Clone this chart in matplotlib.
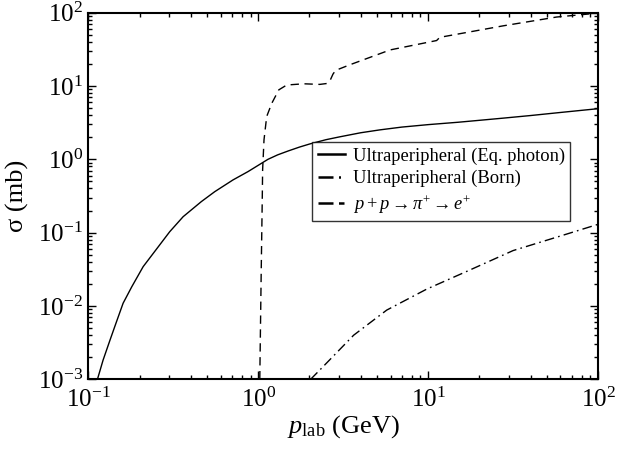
import numpy as np
import matplotlib
matplotlib.use("Agg")
import matplotlib.pyplot as plt
from matplotlib.ticker import LogLocator, FuncFormatter, NullFormatter

plt.rcParams['font.family'] = ['Liberation Serif', 'DejaVu Serif']
plt.rcParams['mathtext.fontset'] = 'custom'
plt.rcParams['mathtext.rm'] = 'Liberation Serif'
plt.rcParams['mathtext.it'] = 'Liberation Serif:italic'

# Ultraperipheral (Eq. photon) - solid
eq_x = [0.113, 0.122, 0.134, 0.144, 0.160, 0.180, 0.210, 0.258, 0.301, 0.361, 0.462,
        0.554, 0.71, 0.87, 1.14, 1.3, 1.5, 1.75, 2.01, 2.5, 3.0, 4.0, 5.2, 7.0, 10,
        15, 20, 27.6, 40, 60, 100]
eq_y = [0.001, 0.00183, 0.00343, 0.0055, 0.0109, 0.0183, 0.0344, 0.0644, 0.103, 0.165, 0.265,
        0.362, 0.524, 0.68, 1.0, 1.15, 1.3, 1.47, 1.62, 1.85, 2.02, 2.3, 2.52, 2.75, 2.97,
        3.2, 3.4, 3.64, 3.95, 4.35, 4.9]

# Ultraperipheral (Born) - dash-dot
born_x = [2.03, 2.3, 3.64, 5.7, 9.8, 17.6, 31.6, 60, 100]
born_y = [0.001, 0.00134, 0.004, 0.0088, 0.017, 0.031, 0.057, 0.09, 0.13]

# p + p -> pi+ -> e+ - dashed
pp_x = [1.02, 1.04, 1.055, 1.06, 1.08, 1.12, 1.2, 1.32, 1.47, 1.85, 2.3, 2.53, 2.65, 2.75,
        2.85, 3.47, 5.97, 11.2, 11.7, 27.6, 56.9, 89, 100]
pp_y = [0.001, 0.03, 0.3, 0.72, 1.84, 3.83, 5.8, 8.85, 10.3, 10.7, 10.5, 10.8, 12, 14.5,
        16.3, 19.5, 31, 41.6, 46, 66, 87, 96, 100]

labels = ['Ultraperipheral (Eq. photon)', 'Ultraperipheral (Born)',
          r'$p + p \rightarrow \pi^{+} \rightarrow e^{+}$']

fig = plt.figure(figsize=(6.27, 4.5), dpi=100)
ax = fig.add_axes([0.141, 0.157, 0.813, 0.815])

ax.plot(eq_x, eq_y, color='black', lw=1.0, label=labels[0])
ax.plot(born_x, born_y, color='black', lw=1.0, dashes=(7, 3, 1.2, 3), label=labels[1])
ax.plot(pp_x, pp_y, color='black', lw=1.0, dashes=(6, 4), label=labels[2])

ax.set_xscale('log')
ax.set_yscale('log')
ax.set_xlim(0.1, 100)
ax.set_ylim(1e-3, 1e2)

fmt = FuncFormatter(lambda v, p: r'$\mathregular{10^{%d}}$' % int(round(np.log10(v))))
ax.xaxis.set_major_locator(LogLocator(base=10, numticks=10))
ax.yaxis.set_major_locator(LogLocator(base=10, numticks=10))
ax.xaxis.set_minor_locator(LogLocator(base=10, subs=np.arange(2, 10), numticks=20))
ax.yaxis.set_minor_locator(LogLocator(base=10, subs=np.arange(2, 10), numticks=20))
ax.xaxis.set_major_formatter(fmt)
ax.yaxis.set_major_formatter(fmt)
ax.xaxis.set_minor_formatter(NullFormatter())
ax.yaxis.set_minor_formatter(NullFormatter())

ax.tick_params(which='both', direction='in', top=True, right=True, labelsize=18, width=1.0)
ax.tick_params(which='major', length=6)
ax.tick_params(axis='x', which='major', pad=6)
ax.tick_params(axis='y', which='major', pad=4)
ax.tick_params(which='minor', length=3)
for s in ax.spines.values():
    s.set_linewidth(1.5)

ax.set_xlabel(r'$p_{\mathregular{lab}}$ (GeV)', fontsize=19, labelpad=1)
ax.set_ylabel(r'σ (mb)', fontsize=19, labelpad=6)

leg = ax.legend(loc='upper left', bbox_to_anchor=(0.439, 0.648), fontsize=13.3, frameon=True,
                fancybox=False, edgecolor='black', handlelength=1.5, handletextpad=0.4,
                borderpad=0.3, labelspacing=0.3, borderaxespad=0)
leg.get_frame().set_linewidth(1.0)
hl = leg.get_lines()
for h in hl:
    h.set_linewidth(1.8)
hl[1].set_dashes((6, 2.2, 0.8, 2.2))
hl[2].set_dashes((6, 2.2, 2.2, 2.2))

fig.savefig('out.png', dpi=100)
